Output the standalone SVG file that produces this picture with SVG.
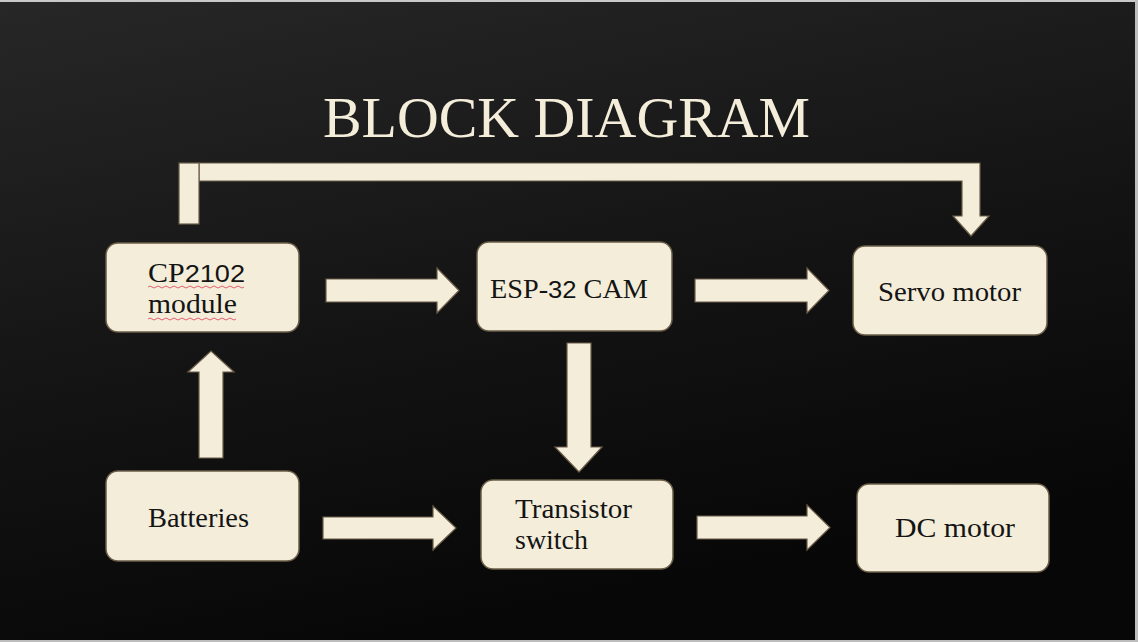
<svg xmlns="http://www.w3.org/2000/svg" width="1138" height="642" viewBox="0 0 1138 642">
<defs>
<linearGradient id="bg" x1="0" y1="0" x2="0.35" y2="1">
<stop offset="0" stop-color="#272727"/>
<stop offset="0.55" stop-color="#141414"/>
<stop offset="1" stop-color="#070707"/>
</linearGradient>
<style>
.box{fill:#F3EDDA;stroke:#6b5d48;stroke-width:1.5}
.arr{fill:#F3EDDA;stroke:#6b5d48;stroke-width:1.2;stroke-linejoin:miter}
.lbl{font-family:"Liberation Serif","DejaVu Serif",serif;font-size:26.5px;fill:#141414}
.sans{font-family:"Liberation Sans","DejaVu Sans",sans-serif;font-size:24px}
.title{font-family:"Liberation Serif","DejaVu Serif",serif;font-size:58px;fill:#F3EDDA}
.wave{fill:none;stroke:#e06070;stroke-width:1}
</style>
</defs>
<rect x="0" y="0" width="1138" height="642" fill="url(#bg)"/>
<rect x="0" y="0" width="1138" height="2" fill="#c9c9c9"/>
<rect x="1135" y="0" width="3" height="642" fill="#bdbdbd"/>
<rect x="0" y="640" width="1138" height="2" fill="#bdbdbd"/>
<text class="title" x="323" y="137" textLength="487" lengthAdjust="spacingAndGlyphs">BLOCK DIAGRAM</text>
<g id="connectors">
<polygon class="arr" points="199,163 980,163 980,216 989,216 971,236 953,216 962,216 962,181 199,181"/>
<rect class="arr" x="179" y="163" width="20" height="61"/>
<polygon class="arr" points="326,279 437,279 437,268 459,290.5 437,313 437,302 326,302"/>
<polygon class="arr" points="695,279 807,279 807,268 829,290.5 807,313 807,302 695,302"/>
<polygon class="arr" points="323,517 433,517 433,506 456,528 433,550 433,539 323,539"/>
<polygon class="arr" points="697,516 807,516 807,505 830,527.5 807,550 807,539 697,539"/>
<polygon class="arr" points="199,458 199,372 188,372 211,351 234,372 223,372 223,458"/>
<polygon class="arr" points="567,343 591,343 591,447 602,447 579,472 555,447 567,447"/>
</g>
<g id="cp2102">
<rect class="box" x="106" y="243" width="193" height="89" rx="12"/>
<text class="lbl" x="148" y="282" textLength="97" lengthAdjust="spacingAndGlyphs">CP<tspan class="sans">2102</tspan></text>
<text class="lbl" x="148" y="313" textLength="89" lengthAdjust="spacingAndGlyphs">module</text>
<path class="wave" d="M148,287 q2,-2 4,0 t4,0 t4,0 t4,0 t4,0 t4,0 t4,0 t4,0 t4,0 t4,0 t4,0 t4,0 t4,0 t4,0 t4,0 t4,0 t4,0 t4,0 t4,0 t4,0 t4,0 t4,0 t4,0 t4,0"/>
<path class="wave" d="M148,319 q2,-2 4,0 t4,0 t4,0 t4,0 t4,0 t4,0 t4,0 t4,0 t4,0 t4,0 t4,0 t4,0 t4,0 t4,0 t4,0 t4,0 t4,0 t4,0 t4,0 t4,0 t4,0 t4,0"/>
</g>
<g id="esp32cam">
<rect class="box" x="477" y="242" width="195" height="89" rx="12"/>
<text class="lbl" x="490" y="298" textLength="158" lengthAdjust="spacingAndGlyphs">ESP-<tspan class="sans">32</tspan> CAM</text>
</g>
<g id="servo">
<rect class="box" x="853" y="246" width="194" height="89" rx="12"/>
<text class="lbl" x="878" y="301" textLength="143" lengthAdjust="spacingAndGlyphs">Servo motor</text>
</g>
<g id="batteries">
<rect class="box" x="106" y="471" width="193" height="90" rx="12"/>
<text class="lbl" x="148" y="527" textLength="101" lengthAdjust="spacingAndGlyphs">Batteries</text>
</g>
<g id="transistor">
<rect class="box" x="481" y="480" width="192" height="89" rx="12"/>
<text class="lbl" x="515" y="518" textLength="117" lengthAdjust="spacingAndGlyphs">Transistor</text>
<text class="lbl" x="515" y="549" textLength="73" lengthAdjust="spacingAndGlyphs">switch</text>
</g>
<g id="dcmotor">
<rect class="box" x="857" y="484" width="192" height="88" rx="12"/>
<text class="lbl" x="895" y="537" textLength="120" lengthAdjust="spacingAndGlyphs">DC motor</text>
</g>
</svg>
